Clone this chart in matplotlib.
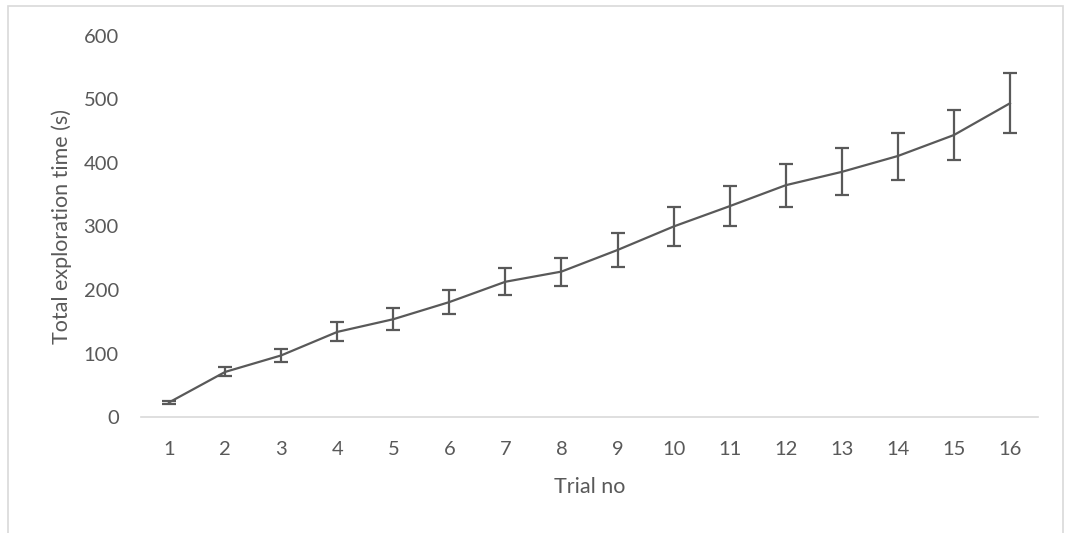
import matplotlib
matplotlib.use("Agg")
import matplotlib.pyplot as plt
from matplotlib.patches import Rectangle

# data
trials = list(range(1, 17))
mean_time = [23, 71, 97, 134, 154, 181, 213, 229, 263, 300,
             332, 365, 386, 411, 444, 494]
err_time = [3, 7, 10, 15, 17, 19, 21, 22, 26, 30,
            32, 34, 37, 37, 40, 47]
yticks = [0, 100, 200, 300, 400, 500, 600]

grey = "#595959"
plt.rcParams['font.family'] = ['Lato', 'DejaVu Sans']

fig = plt.figure(figsize=(10.66, 5.33), dpi=100)
ax = fig.add_axes([0.1323, 0.2176, 0.8414, 0.7149])

ax.errorbar(trials, mean_time, yerr=err_time, color=grey, lw=1.6,
            elinewidth=1.6, capsize=5, capthick=1.6)

ax.set_xlim(0.5, 16.5)
ax.set_ylim(0, 600)
ax.set_xticks(trials)
ax.set_yticks(yticks)
ax.tick_params(length=0, labelsize=14.5, labelcolor=grey)
ax.tick_params(axis='x', pad=17)
ax.tick_params(axis='y', pad=16)
for s in ['top', 'right', 'left']:
    ax.spines[s].set_visible(False)
ax.spines['bottom'].set_color('#d9d9d9')
ax.spines['bottom'].set_linewidth(1.2)

ax.set_xlabel("Trial no", fontsize=15.5, color=grey, labelpad=14)
ax.set_ylabel("Total exploration time (s)", fontsize=15.5, color=grey, labelpad=8)

# chart frame
fig.patches.append(Rectangle((8 / 1066, -0.05), 1055 / 1066, 1.05 - 6 / 533,
                             transform=fig.transFigure, fill=False,
                             edgecolor='#d9d9d9', lw=1.2))

fig.savefig("out.png", dpi=100)
